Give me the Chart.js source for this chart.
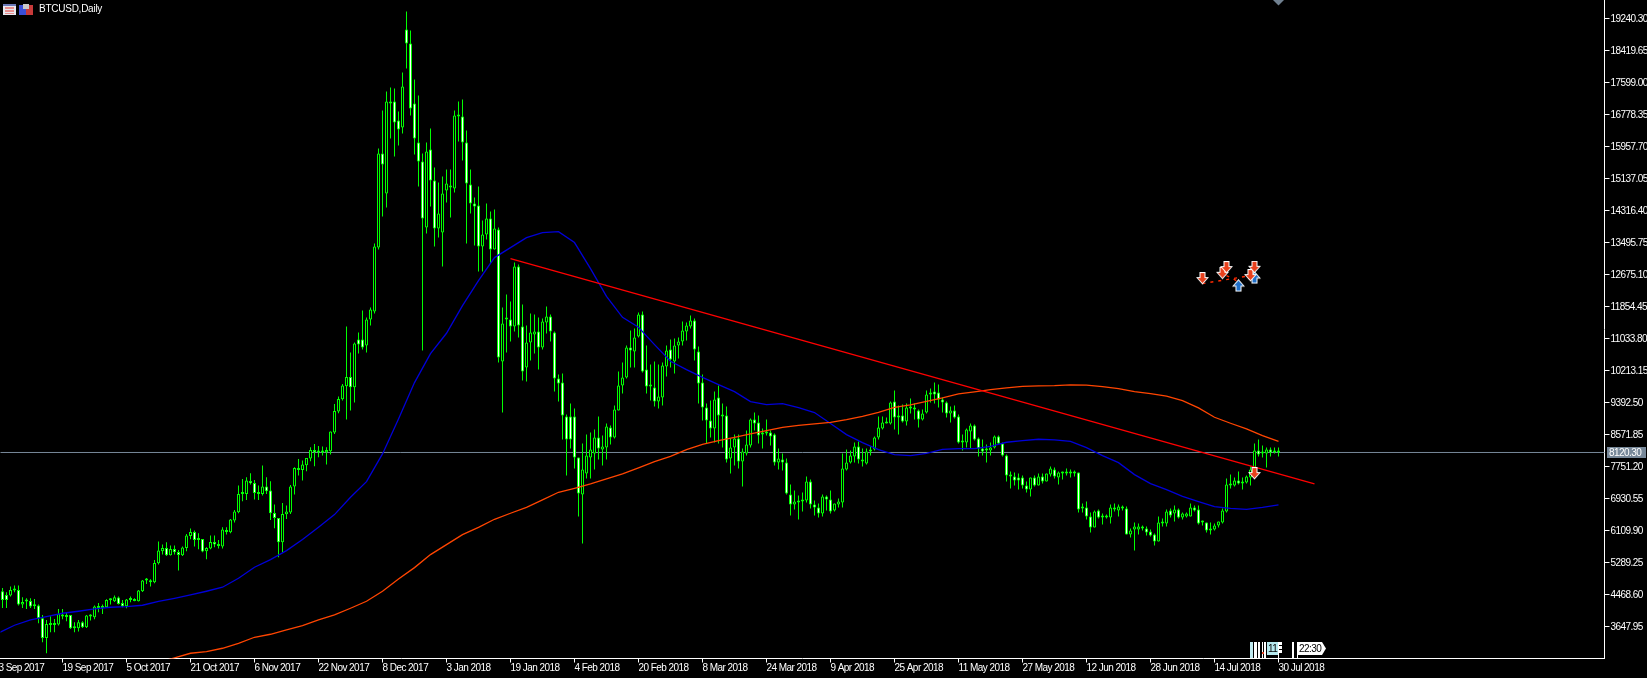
<!DOCTYPE html>
<html>
<head>
<meta charset="utf-8">
<title>BTCUSD,Daily</title>
<style>html,body{margin:0;padding:0;background:#000;overflow:hidden}canvas{display:block}</style>
<script src="https://cdn.jsdelivr.net/npm/chart.js@4/dist/chart.umd.min.js"></script>
</head>
<body>
<canvas id="c" width="1647" height="678"></canvas>
<script>
const xTickLabels = ["3 Sep 2017","19 Sep 2017","5 Oct 2017","21 Oct 2017","6 Nov 2017","22 Nov 2017","8 Dec 2017","3 Jan 2018","19 Jan 2018","4 Feb 2018","20 Feb 2018","8 Mar 2018","24 Mar 2018","9 Apr 2018","25 Apr 2018","11 May 2018","27 May 2018","12 Jun 2018","28 Jun 2018","14 Jul 2018","30 Jul 2018"];
const yTickValues = [19240.30,18419.65,17599.00,16778.35,15957.70,15137.05,14316.40,13495.75,12675.10,11854.45,11033.80,10213.15,9392.50,8571.85,7751.20,6930.55,6109.90,5289.25,4468.60,3647.95];
const lastPrice = 8120.30;

const open = [4562,4468,4451,4579,4596,4220,4297,4314,4194,4194,
3870,3365,3699,3699,3707,3964,3955,3955,3613,3613,
3767,3639,3912,3895,4135,4135,4152,4331,4305,4400,
4263,4177,4340,4314,4305,4562,4835,4844,4793,5280,
5588,5673,5485,5648,5571,5485,5673,5981,6083,5878,
5904,5588,5656,5827,5724,5707,6135,6075,6374,6588,
7058,7058,7391,7340,7058,7058,7246,7143,6571,6442,
5819,6537,6579,7246,7725,7673,7793,7964,8186,8118,
8118,8126,8152,8631,9169,9486,9819,10058,9793,11016,
11016,10862,11529,11734,13375,15786,14760,17068,17119,16632,
16453,18966,18607,17068,16068,15581,13888,15888,15093,13862,
13760,14837,14965,14888,16735,16735,16068,14991,14504,14452,
13401,13709,14119,13324,13837,10452,11529,11529,11349,12888,
11349,10298,10939,11144,11221,10811,11452,11606,11195,10016,
9913,9041,9041,9041,7990,7041,7579,7990,8092,8503,
8195,8246,8759,8503,9195,9836,10041,10811,10708,11093,
11657,10246,9810,9785,9426,9529,10324,10760,10452,10862,
10965,11221,11349,11503,10708,9913,9272,8939,8734,9529,
9067,9067,7964,8246,8477,7887,8092,8297,8964,8887,
8580,8631,8631,8580,7861,7938,7861,7041,6784,6836,
6861,6887,7374,6784,6707,6554,6990,6913,6631,6784,
6836,7682,7861,8015,8272,7938,7836,8144,8195,8503,
8734,8862,8862,9426,9016,9067,8913,9272,9221,9195,
8964,9144,9605,9682,9657,9477,9400,9118,9195,9041,
8375,8375,8656,8811,8477,8221,8169,8169,8246,8528,
8349,8041,7528,7503,7477,7477,7272,7169,7477,7272,
7503,7374,7554,7682,7477,7579,7579,7579,7605,7605,
6682,6707,6477,6195,6631,6451,6451,6451,6656,6631,
6682,6682,6015,6143,6143,6220,6169,6092,6015,5836,
6298,6298,6631,6554,6656,6451,6477,6477,6707,6656,
6323,6323,6118,6143,6246,6323,6605,7272,7272,7400,
7323,7349,7477,7682,8169,8144,8092,8195,8118,8169];

const high = [4647,4536,4682,4707,4707,4408,4382,4382,4365,4220,
3955,3827,3921,3852,4109,4109,4023,3955,3767,3827,
3793,3955,3972,4194,4263,4220,4357,4382,4451,4425,
4340,4365,4425,4382,4596,4853,4904,4870,5365,5836,
5759,5819,5733,5733,5622,5707,6032,6169,6118,6049,
5904,5690,5989,5989,5878,6203,6203,6417,6648,7272,
7443,7485,7588,7417,7272,7785,7485,7383,6784,6442,
6827,6759,7289,7742,7956,7913,7981,8255,8340,8289,
8272,8255,8656,9366,9554,9879,11349,10682,10939,11195,
11760,11580,11836,13478,15914,16889,17376,17478,17453,16863,
17863,19427,18940,17684,17273,15786,16068,16427,15427,15042,
15196,15376,15376,16889,17119,17171,16376,15376,14658,14940,
14068,14504,14299,14350,13888,11836,12170,11990,12991,12939,
11914,11375,11683,11657,11580,11554,11862,11657,11221,10118,
10144,9092,9375,9246,7990,8349,8580,8631,8708,9041,
8554,8862,8811,9323,10195,10426,10862,11247,11298,11708,
11734,10862,10375,10452,10375,10426,10862,11016,11042,11067,
11478,11452,11632,11554,10836,10118,9375,9452,9682,9836,
9375,9298,8477,8580,8580,8221,8682,8990,9144,9067,
8734,8964,8682,8605,8221,8092,7964,7297,7143,7015,
7092,7503,7426,6887,6810,7041,7015,7143,6810,6939,
8092,8195,8169,8375,8400,8221,8221,8272,8528,9041,
9041,9016,9426,9708,9323,9349,9375,9503,9375,9221,
9221,9708,9759,9913,9862,9529,9426,9298,9323,9092,
8580,8734,8862,8836,8503,8451,8323,8375,8554,8554,
8375,8067,7631,7605,7579,7528,7374,7477,7528,7579,
7579,7579,7759,7733,7631,7631,7708,7682,7656,7605,
6810,6861,6579,6631,6656,6554,6528,6784,6810,6784,
6759,6733,6169,6323,6298,6246,6220,6143,6041,6477,
6425,6656,6682,6759,6682,6579,6579,6810,6759,6759,
6375,6323,6323,6298,6349,6682,7451,7554,7477,7631,
7477,7528,7759,8349,8451,8297,8246,8246,8246,8246];

const low = [4135,4135,4425,4536,4194,4135,4109,4135,4109,3741,
3254,2972,3511,3511,3682,3844,3793,3596,3511,3528,
3622,3622,3810,3844,4023,3981,4135,4220,4288,4220,
4152,4126,4280,4305,4297,4545,4750,4682,4767,5246,
5502,5468,5477,5502,5092,5468,5588,5895,5707,5639,
5562,5383,5639,5690,5656,5656,6015,6049,6323,6562,
6870,6904,7297,6913,6904,7015,7058,6391,6178,5434,
5571,6417,6545,7041,7528,7400,7639,7896,7767,7998,
8041,7810,8067,8597,9127,9451,8964,9195,9400,10657,
10760,10682,11375,11683,13324,14170,14401,16171,15709,15991,
16299,17966,16760,15760,14940,10734,13734,14427,13401,13632,
12888,14529,14145,14786,16094,15606,13478,14247,13427,12760,
12760,13580,12965,13324,10426,9144,10682,10965,11221,11067,
9964,9939,10477,10657,10246,10760,11170,10965,9682,9426,
8451,7528,8221,7708,6477,5784,7451,7451,7682,7938,
7784,7938,8323,8477,9195,9631,10016,10298,10298,11067,
10170,9631,9452,9298,9246,9323,10067,10298,10144,10529,
10862,10990,11298,10477,9375,8939,8349,8503,8375,8349,
8246,7861,7579,7784,7708,7246,8041,8246,8682,8349,
8221,8554,8297,7784,7682,7656,7041,6502,6656,6400,
6605,6836,6682,6502,6451,6477,6631,6554,6605,6707,
6707,7656,7836,7861,7836,7759,7810,8041,8169,8451,
8708,8862,8836,8708,8580,8887,8811,9118,8964,8759,
8939,9118,9400,9375,9272,9144,9016,8887,8990,8349,
8169,8246,8221,8426,8015,8041,7861,8041,8221,8323,
8015,7374,7195,7272,7169,7195,7092,6990,7246,7272,
7323,7374,7503,7451,7297,7426,7528,7477,7503,6579,
6579,6400,6066,6195,6425,6272,6425,6298,6605,6477,
6631,6015,5938,5605,6015,6118,5990,5964,5733,5836,
6220,6220,6451,6349,6425,6400,6451,6477,6605,6272,
6246,6066,6015,6118,6195,6298,6579,7195,7246,7297,
7169,7323,7272,7656,8015,7990,7733,8015,8092,8015];

const close = [4340,4340,4596,4605,4220,4288,4314,4169,4177,3870,
3365,3724,3724,3724,3981,3912,3904,3613,3639,3767,
3639,3938,3938,4169,4152,4152,4340,4348,4408,4237,
4177,4348,4357,4357,4579,4835,4853,4793,5289,5605,
5673,5485,5648,5562,5494,5682,5989,6083,5878,5895,
5579,5673,5827,5759,5759,6143,6083,6400,6605,7058,
7075,7400,7331,7084,7092,7246,7126,6562,6442,5819,
6545,6605,7246,7725,7673,7810,7981,8186,8126,8152,
8152,8186,8656,9186,9494,9836,10058,9793,10913,10888,
10811,11529,11785,13401,15786,15504,17119,17119,16581,16401,
17504,18607,16940,16171,15581,14119,15837,15093,13862,14247,
14760,15016,14914,16760,16786,16068,15016,14504,14427,13401,
13709,14119,13324,13862,10554,11426,11554,11349,12888,11375,
10195,10939,11195,11221,10811,11478,11606,11221,10016,9888,
9067,8451,8451,7990,7066,7682,8041,8195,8503,8221,
8272,8785,8503,9221,9836,10041,10811,10734,11067,11657,
10195,9810,9836,9426,9554,10349,10734,10503,10862,10965,
11247,11375,11503,10760,9888,9272,8939,8734,9477,9067,
9041,7938,8246,8477,7887,8144,8323,8964,8862,8554,
8631,8605,8528,7861,7964,7861,7066,6784,6861,6861,
6887,7374,6784,6707,6554,6990,6913,6605,6810,6861,
7708,7861,8041,8272,7938,7887,8144,8195,8503,8759,
8887,8913,9400,9016,9067,8913,9272,9246,9272,8964,
9118,9605,9631,9605,9477,9400,9118,9195,9016,8375,
8400,8708,8811,8451,8221,8144,8195,8246,8528,8349,
8041,7528,7503,7400,7400,7272,7169,7477,7272,7503,
7374,7579,7708,7503,7605,7605,7631,7631,7579,6656,
6707,6477,6195,6605,6451,6502,6502,6707,6707,6733,
6707,6015,6118,6220,6220,6169,6066,5990,5836,6323,
6323,6605,6502,6656,6451,6554,6554,6707,6631,6298,
6349,6118,6169,6246,6349,6631,7297,7297,7400,7323,
7374,7503,7682,8169,8067,8092,8195,8118,8169,8120.3];

// moving averages, read every fourth bar
const blueMA = [3493,3690,3827,3912,3998,4049,4109,4152,4169,4203,
4305,4382,4468,4562,4665,4895,5177,5374,5605,5887,
6203,6528,6972,7374,8084,8981,9913,10657,11178,11888,
12529,13119,13375,13632,13760,13785,13504,12837,12126,11588,
11332,10888,10460,10246,10049,9862,9682,9426,9349,9375,
9272,9144,8862,8580,8375,8195,8067,8041,8099,8202,
8221,8221,8280,8383,8426,8460,8443,8408,8246,8041,
7861,7554,7323,7169,6997,6861,6733,6689,6664,6715,6777];

const orangeMA = [null,null,null,null,null,null,null,null,null,null,
2741,2852,2972,3015,3100,3228,3382,3459,3570,3682,
3827,3955,4126,4305,4562,4878,5168,5502,5759,6015,
6202,6408,6562,6715,6905,7100,7203,7315,7443,7571,
7726,7887,8023,8195,8331,8426,8511,8597,8682,8767,
8818,8854,8895,8964,9049,9152,9280,9341,9434,9520,
9623,9674,9734,9777,9818,9828,9836,9854,9849,9811,
9759,9682,9631,9567,9452,9264,9024,8870,8726,8554,8408];

const trendIndex = [128,329];
const trendValue = [13093,7315];
const sellIndex = [301,306,307,313,314,314];
const sellValue = [12580,12716,12862,12657,12870,7579];
const buyIndex = [310,314];
const buyValue = [12401,12606];
const dashAIndex = [301,313];
const dashAValue = [12452,12657];
const dashBIndex = [307,310];
const dashBValue = [12657,12503];

const BAR_COUNT = 401;
const FONT = '"Liberation Sans",sans-serif';
const LIME = '#00ff00';
const pts = (idx,val)=>idx.map((k,i)=>({x:k,y:val[i]}));
const every4 = vals=>vals.map((v,i)=>v===null?null:{x:i*4,y:v}).filter(Boolean);

function arrowIcon(fill,up){
  const c=document.createElement('canvas');c.width=13;c.height=13;const g=c.getContext('2d');
  const shape=[[3.5,0],[9.5,0],[9.5,5],[13,5],[6.5,12.5],[0,5],[3.5,5]];
  const inner=[[4.5,1],[8.5,1],[8.5,6],[11,6],[6.5,11],[2,6],[4.5,6]];
  const draw=(arr,col)=>{const p=up?arr.map(q=>[q[0],12.5-q[1]]):arr;g.fillStyle=col;g.beginPath();p.forEach((q,i)=>i?g.lineTo(q[0],q[1]):g.moveTo(q[0],q[1]));g.closePath();g.fill();};
  draw(shape,'#fff');draw(inner,fill);
  return c;
}

const decor = {
  id:'decor',
  beforeDraw(chart){ chart.ctx.letterSpacing='-0.55px'; },
  afterDraw(chart){
    const g=chart.ctx, y=chart.scales.y, x=chart.scales.x;
    g.save();
    g.fillStyle='#e8e8f0';g.fillRect(3,4,13,11);
    g.fillStyle='#6a78b8';g.fillRect(3,4,13,2);
    g.fillStyle='#e88f8f';g.fillRect(5,7,9,2);g.fillRect(5,10,9,2);g.fillRect(5,13,9,1);
    g.fillStyle='#3a4fd8';g.fillRect(19,5,7,10);
    g.fillStyle='#c83a3a';g.fillRect(26,5,7,10);
    g.fillStyle='#c8c8c8';g.fillRect(23,4,6,5);
    g.letterSpacing='-0.25px';
    g.fillStyle='#fff';g.font='10px '+FONT;g.textBaseline='middle';g.textAlign='left';
    g.fillText('BTCUSD,Daily',39,9.5);
    g.letterSpacing='-0.55px';
    const px=x.getPixelForValue(320);
    g.fillStyle='#708090';g.beginPath();g.moveTo(px-5.5,0);g.lineTo(px+5.5,0);g.lineTo(px,5.5);g.closePath();g.fill();
    const py=y.getPixelForValue(lastPrice);
    g.fillStyle='#778899';g.fillRect(1607,Math.floor(py)-5,39,11);
    g.fillStyle='#fff';g.font='10px '+FONT;g.textBaseline='middle';
    g.fillText(lastPrice.toFixed(2),1609,py+0.5);
    g.fillStyle='#bfeaf0';g.fillRect(1250,642,3,16);
    g.fillStyle='#fff';
    [[1254,3],[1258,2],[1262,1],[1264,2]].forEach(b=>g.fillRect(b[0],642,b[1],16));
    g.fillStyle='#b5e8ee';g.fillRect(1267,642,11,13);
    g.fillStyle='#000';g.fillText('11',1268,649);
    g.fillStyle='#fff';g.fillRect(1278,642,1,16);
    [642,646,650].forEach(t=>g.fillRect(1279,t,3,3));
    g.fillRect(1292,642,2,16);g.fillRect(1297,642,1,16);
    g.beginPath();g.moveTo(1298,642);g.lineTo(1322,642);g.lineTo(1326,648.5);g.lineTo(1322,655);g.lineTo(1298,655);g.closePath();g.fill();
    g.fillStyle='#000';g.fillText('22:30',1299,649);
    g.fillStyle='#e04020';g.fillRect(1262,652,2,2);
    g.restore();
  }
};

new Chart(document.getElementById('c').getContext('2d'),{
  type:'bar',
  data:{
    datasets:[
      {type:'line',label:'Price',data:[{x:0,y:lastPrice},{x:402,y:lastPrice}],borderColor:'#778899',borderWidth:1,pointRadius:0,order:9},
      {label:'Range',data:low.map((l,i)=>({x:i+1,y:[l,high[i]]})),backgroundColor:LIME,borderWidth:0,grouped:false,barPercentage:1,categoryPercentage:1,maxBarThickness:1,inflateAmount:0,order:8},
      {label:'Body',data:open.map((o,i)=>({x:i+1,y:[o,close[i]]})),backgroundColor:open.map((o,i)=>close[i]>o?'#000000':'#ffffff'),borderColor:LIME,borderWidth:1,borderSkipped:false,grouped:false,barPercentage:1,categoryPercentage:1,maxBarThickness:3,minBarLength:2,inflateAmount:0,order:7},
      {type:'line',label:'MA slow',data:every4(orangeMA),borderColor:'#ff4500',borderWidth:1.3,pointRadius:0,order:4},
      {type:'line',label:'MA fast',data:every4(blueMA),borderColor:'#0000d8',borderWidth:1.3,pointRadius:0,order:4},
      {type:'line',label:'Trend',data:pts(trendIndex,trendValue),borderColor:'#ff0000',borderWidth:1.3,pointRadius:0,order:3},
      {type:'line',label:'Trade A',data:pts(dashAIndex,dashAValue),borderColor:'#ff2a00',borderWidth:1.4,borderDash:[3,5],pointRadius:0,order:2},
      {type:'line',label:'Trade B',data:pts(dashBIndex,dashBValue),borderColor:'#ff2a00',borderWidth:1.4,borderDash:[3,5],pointRadius:0,order:2},
      {type:'line',label:'Sell',data:pts(sellIndex,sellValue),showLine:false,pointStyle:arrowIcon('#e8401c',false),pointRadius:6,order:1},
      {type:'line',label:'Buy',data:pts(buyIndex,buyValue),showLine:false,pointStyle:arrowIcon('#1f6fc8',true),pointRadius:6,order:1}
    ]
  },
  options:{
    responsive:false,animation:false,devicePixelRatio:1,
    layout:{autoPadding:false,padding:{left:0.5,right:0,top:0,bottom:0}},
    plugins:{legend:{display:false},tooltip:{enabled:false},title:{display:false}},
    events:[],
    scales:{
      x:{
        type:'linear',min:0.5,max:BAR_COUNT+0.5,offset:false,
        grid:{offset:false,drawOnChartArea:false,tickLength:4,tickColor:'#fff',tickWidth:1},
        border:{color:'#fff',width:1},
        ticks:{autoSkip:false,maxRotation:0,minRotation:0,align:'start',padding:0,color:'#fff',font:{family:FONT,size:10},callback:v=>xTickLabels[v/16]||''},
        afterBuildTicks(s){s.ticks=xTickLabels.map((_,i)=>({value:i*16}));},
        afterFit(s){s.height=19.5;s.paddingLeft=0;s.paddingRight=0;s.paddingTop=0;s.paddingBottom=0;}
      },
      y:{
        type:'linear',position:'right',min:2837.4,max:19724.6,
        grid:{drawOnChartArea:false,tickLength:5,tickColor:'#fff',tickWidth:1},
        border:{color:'#fff',width:1},
        ticks:{autoSkip:false,padding:1,color:'#fff',font:{family:FONT,size:10},callback:v=>Number(v).toFixed(2)},
        afterBuildTicks(s){s.ticks=yTickValues.map(v=>({value:v}));},
        afterFit(s){s.width=42.5;s.paddingTop=0;s.paddingBottom=0;s.paddingLeft=0;s.paddingRight=0;}
      }
    }
  },
  plugins:[decor]
});
</script>
</body>
</html>
